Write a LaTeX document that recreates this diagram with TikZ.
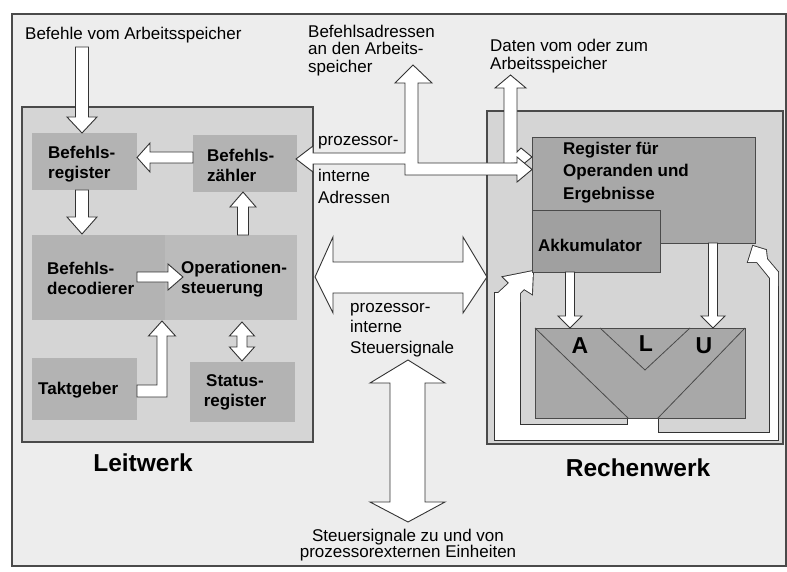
\documentclass[tikz,border=0pt]{standalone}
\usepackage{fontspec}
\setmainfont{Liberation Sans}
\definecolor{pagebg}{HTML}{EDEDED}
\definecolor{unitbg}{HTML}{D5D5D5}
\definecolor{blockgray}{HTML}{B3B3B3}
\definecolor{blockgrayb}{HTML}{BBBBBB}
\definecolor{darkblock}{HTML}{A8A8A8}
\definecolor{linecol}{HTML}{4A4A4A}
\newcommand{\bandpass}[1]{%
  \path[#1] (495,425) rectangle (658,440);
  \path[#1] (628,418) rectangle (658,440);
  \path[#1] (628,433) rectangle (778,440);
  \path[#1] (495,293) rectangle (520,440);
  \path[#1] (770,272) rectangle (778,440);
  \path[#1] (495,296) -- (509,283) -- (503,277) -- (533,271) -- (532,294) -- (524,289) -- (520,293) -- (520,302) -- (495,302) -- cycle;
  \path[#1] (778,272) -- (767,259) -- (766,250) -- (753,246) -- (748,262) -- (757,262) -- (770,278) -- (770,286) -- (778,286) -- cycle;
}
\begin{document}
\begin{tikzpicture}[x=1pt,y=-1pt,
  frameline/.style={draw=linecol,line width=1.2pt},
  unitbox/.style={fill=unitbg,draw=linecol,line width=1.1pt},
  blk/.style={fill=blockgray,draw=none,inner sep=0,anchor=north west},
  dblk/.style={fill=darkblock,draw=linecol,line width=0.8pt,inner sep=0,anchor=north west},
  barrow/.style={draw=black!80,fill=white,line width=0.9pt,line join=miter},
  bandline/.style={draw=black!80,line width=1.8pt,line join=miter},
  bandfill/.style={fill=white},
  lbl/.style={font=\fontsize{17}{17.5}\selectfont,inner sep=0,align=left},
  blbl/.style={font=\bfseries\fontsize{17}{20}\selectfont,inner sep=0,align=left},
  biglbl/.style={font=\bfseries\fontsize{24.5}{26}\selectfont,inner sep=0},
  alulbl/.style={font=\bfseries\fontsize{23}{24}\selectfont,inner sep=0}]
\useasboundingbox (0,0) rectangle (787,572);
\fill[white] (0,0) rectangle (787,572);
\filldraw[fill=pagebg,frameline] (12,14) rectangle (786,566);

% ---------- Leitwerk ----------
\filldraw[unitbox] (22,107) rectangle (313,442);
\node[blk,minimum width=105pt,minimum height=57pt] (breg) at (32,133) {};
\node[blk,minimum width=104pt,minimum height=57pt] (bzae) at (193,135) {};
\node[blk,minimum width=133pt,minimum height=85pt] (bdec) at (32,235) {};
\node[blk,fill=blockgrayb,minimum width=132pt,minimum height=85pt] (ops) at (165,235) {};
\node[blk,minimum width=105pt,minimum height=62pt] (takt) at (32,358) {};
\node[blk,minimum width=105pt,minimum height=60pt] (stat) at (190,362) {};

\node[blbl,anchor=west] (tbreg) at (48,164) {Befehls-\\register};
\node[blbl,anchor=west] (tbzae) at (207,165) {Befehls-\\zähler};
\node[blbl,anchor=west] (tbdec) at (47,278) {Befehls-\\decodierer};
\node[blbl,anchor=west] (tops) at (181,279) {Operationen-\\steuerung};
\node[blbl,anchor=west] (ttakt) at (38,390) {Taktgeber};
\node[blbl,align=center] (tstat) at (235,392) {Status-\\register};
\node[biglbl] (leit) at (143,463) {Leitwerk};

% arrows inside Leitwerk
\filldraw[barrow] (75.5,47) -- (75.5,117) -- (67,117) -- (82,133) -- (97,117) -- (88.5,117) -- (88.5,47) -- cycle;
\filldraw[barrow] (193,152) -- (150,152) -- (150,143) -- (137,157.5) -- (150,172) -- (150,163) -- (193,163) -- cycle;
\filldraw[barrow] (75.5,190) -- (75.5,217) -- (67,217) -- (82,234) -- (97,217) -- (88.5,217) -- (88.5,190) -- cycle;
\filldraw[barrow] (237.5,235) -- (237.5,207) -- (230,207) -- (243,192) -- (256,207) -- (248.5,207) -- (248.5,235) -- cycle;
\filldraw[barrow] (137,272) -- (168,272) -- (168,264) -- (183,277) -- (168,290) -- (168,282) -- (137,282) -- cycle;
\filldraw[barrow] (137,385) -- (157,385) -- (157,336) -- (148.5,336) -- (162,321) -- (175.5,336) -- (167,336) -- (167,397) -- (137,397) -- cycle;
\filldraw[barrow] (237,336) -- (237,347) -- (229.5,347) -- (242,361) -- (254.5,347) -- (247,347) -- (247,336) -- (254.5,336) -- (242,322) -- (229.5,336) -- cycle;

% ---------- Rechenwerk ----------
\filldraw[unitbox] (487,111) rectangle (783,444);
% feedback channel: outline pass, then fill pass
\bandpass{bandline}
\bandpass{bandfill}
% ALU
\node[dblk,minimum width=210pt,minimum height=90pt] (alu) at (535,328) {};
\draw[linecol,line width=0.8pt] (535,328) -- (628,418);
\draw[linecol,line width=0.8pt] (600,328) -- (645,370) -- (690,328);
\draw[linecol,line width=0.8pt] (745,328) -- (658,418);
\node[alulbl] (la) at (580,346) {A};
\node[alulbl] (ll) at (646,344) {L};
\node[alulbl] (lu) at (704,346) {U};
% registers
\node[dblk,minimum width=223pt,minimum height=106pt] (reg) at (532,137) {};
\node[dblk,fill=darkblock!95!black,minimum width=128pt,minimum height=62pt] (akku) at (532,210) {};
\node[blbl,anchor=west,font=\bfseries\fontsize{17}{22.5}\selectfont] (treg) at (563,172.5) {Register für\\Operanden und\\Ergebnisse};
\node[blbl,anchor=west] (takku) at (538,245) {Akkumulator};
\node[biglbl] (rech) at (638,468) {Rechenwerk};
% arrows to ALU
\filldraw[barrow] (565.5,272) -- (565.5,316) -- (558,316) -- (570,328) -- (582,316) -- (574.5,316) -- (574.5,272) -- cycle;
\filldraw[barrow] (708.5,243) -- (708.5,316) -- (701,316) -- (713,328) -- (725,316) -- (717.5,316) -- (717.5,243) -- cycle;

% ---------- buses in the middle ----------
\filldraw[barrow] (504,164) -- (504,88) -- (495,88) -- (510.5,75) -- (526,88) -- (517,88) -- (517,152) -- (521,148) -- (532,157) -- (521,166) -- (517,163) -- cycle;
\filldraw[barrow] (296,159) -- (313,146) -- (313,153) -- (405,153) -- (405,83) -- (395,83) -- (413,65) -- (432,83) -- (418,83) -- (418,163) -- (517,163) -- (517,157) -- (532,169.5) -- (517,182) -- (517,175) -- (405,175) -- (405,164) -- (313,164) -- (313,172) -- cycle;
\filldraw[barrow] (315,277) -- (333,237) -- (333,262) -- (463,262) -- (463,237) -- (487,277) -- (463,313) -- (463,293) -- (333,293) -- (333,313) -- cycle;
\filldraw[barrow] (408,360) -- (445,383) -- (425,383) -- (425,502) -- (445,502) -- (408,522) -- (370,502) -- (390,502) -- (390,383) -- (370,383) -- cycle;

% ---------- free labels ----------
\node[lbl,anchor=west] (tbef) at (25,35) {Befehle vom Arbeitsspeicher};
\node[lbl,anchor=west] (tadr) at (308,50.5) {Befehlsadressen\\an den Arbeits-\\speicher};
\node[lbl,anchor=west] (tdat) at (490,56) {Daten vom oder zum\\Arbeitsspeicher};
\node[lbl,anchor=west] (tpro) at (318,143) {prozessor-};
\node[lbl,anchor=west,font=\fontsize{17}{22}\selectfont] (tint) at (318,186.5) {interne\\Adressen};
\node[lbl,anchor=west,font=\fontsize{17}{20.5}\selectfont] (tsteu) at (350,330) {prozessor-\\interne\\Steuersignale};
\node[lbl,align=center,font=\fontsize{17}{16.5}\selectfont] (text) at (408,545) {Steuersignale zu und von\\prozessorexternen Einheiten};
\end{tikzpicture}
\end{document}
